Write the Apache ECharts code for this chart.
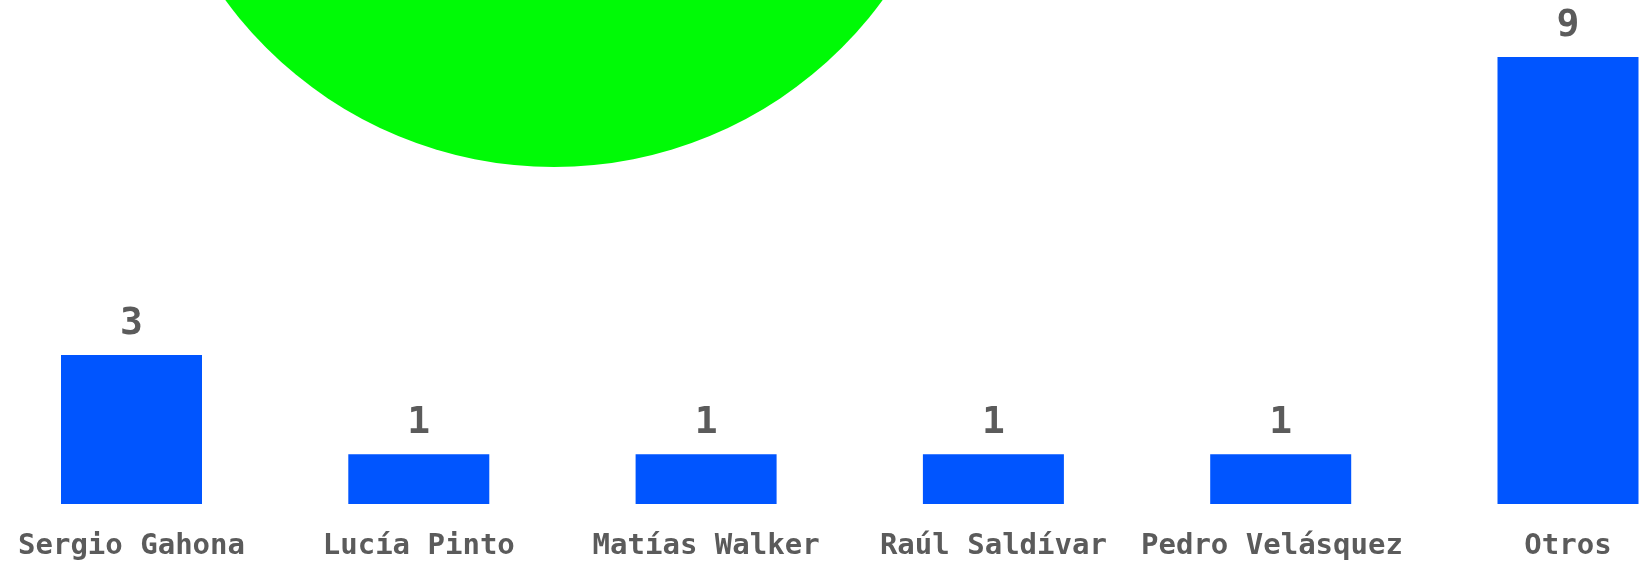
<!DOCTYPE html>
<html>
<head>
<meta charset="utf-8">
<title>Votos por candidato</title>
<script src="https://cdn.jsdelivr.net/npm/echarts@6/dist/echarts.min.js"></script>
<style>
  html, body { margin: 0; padding: 0; background: #ffffff; }
  #chart { width: 1650px; height: 561px; }
</style>
</head>
<body>
<div id="chart"></div>
<script>
// Candidates and their counts
const candidates = ['Sergio Gahona', 'Lucía Pinto', 'Matías Walker', 'Raúl Saldívar', 'Pedro Velásquez ', 'Otros'];
const votes = [3, 1, 1, 1, 1, 9];

const textColor = '#5b5b5b';
const barColor = '#0055ff';
const monoFont = '"DejaVu Sans Mono", "Liberation Mono", monospace';

const chart = echarts.init(document.getElementById('chart'), null, { renderer: 'canvas' });

chart.setOption({
  animation: false,
  backgroundColor: '#ffffff',
  // decorative green disc sitting partly above the top edge
  graphic: [{
    type: 'circle',
    z: -10,
    shape: { cx: 554, cy: -240, r: 407 },
    style: { fill: '#00fa06' },
    silent: true
  }],
  grid: { left: 131.5, right: 82, top: 57, bottom: 56, containLabel: false },
  xAxis: {
    type: 'category',
    data: candidates,
    boundaryGap: false,
    axisLine: { show: false },
    axisTick: { show: false },
    splitLine: { show: false },
    axisLabel: {
      interval: 0,
      margin: 28,
      color: textColor,
      fontFamily: monoFont,
      fontWeight: 'bold',
      fontSize: 29
    }
  },
  yAxis: {
    type: 'value',
    min: 0,
    max: 9,
    show: false,
    splitLine: { show: false }
  },
  series: [{
    type: 'bar',
    data: votes,
    barWidth: 141,
    itemStyle: { color: barColor },
    label: {
      show: true,
      position: 'top',
      distance: 12,
      color: textColor,
      fontFamily: monoFont,
      fontWeight: 'bold',
      fontSize: 38
    }
  }]
});
</script>
</body>
</html>
